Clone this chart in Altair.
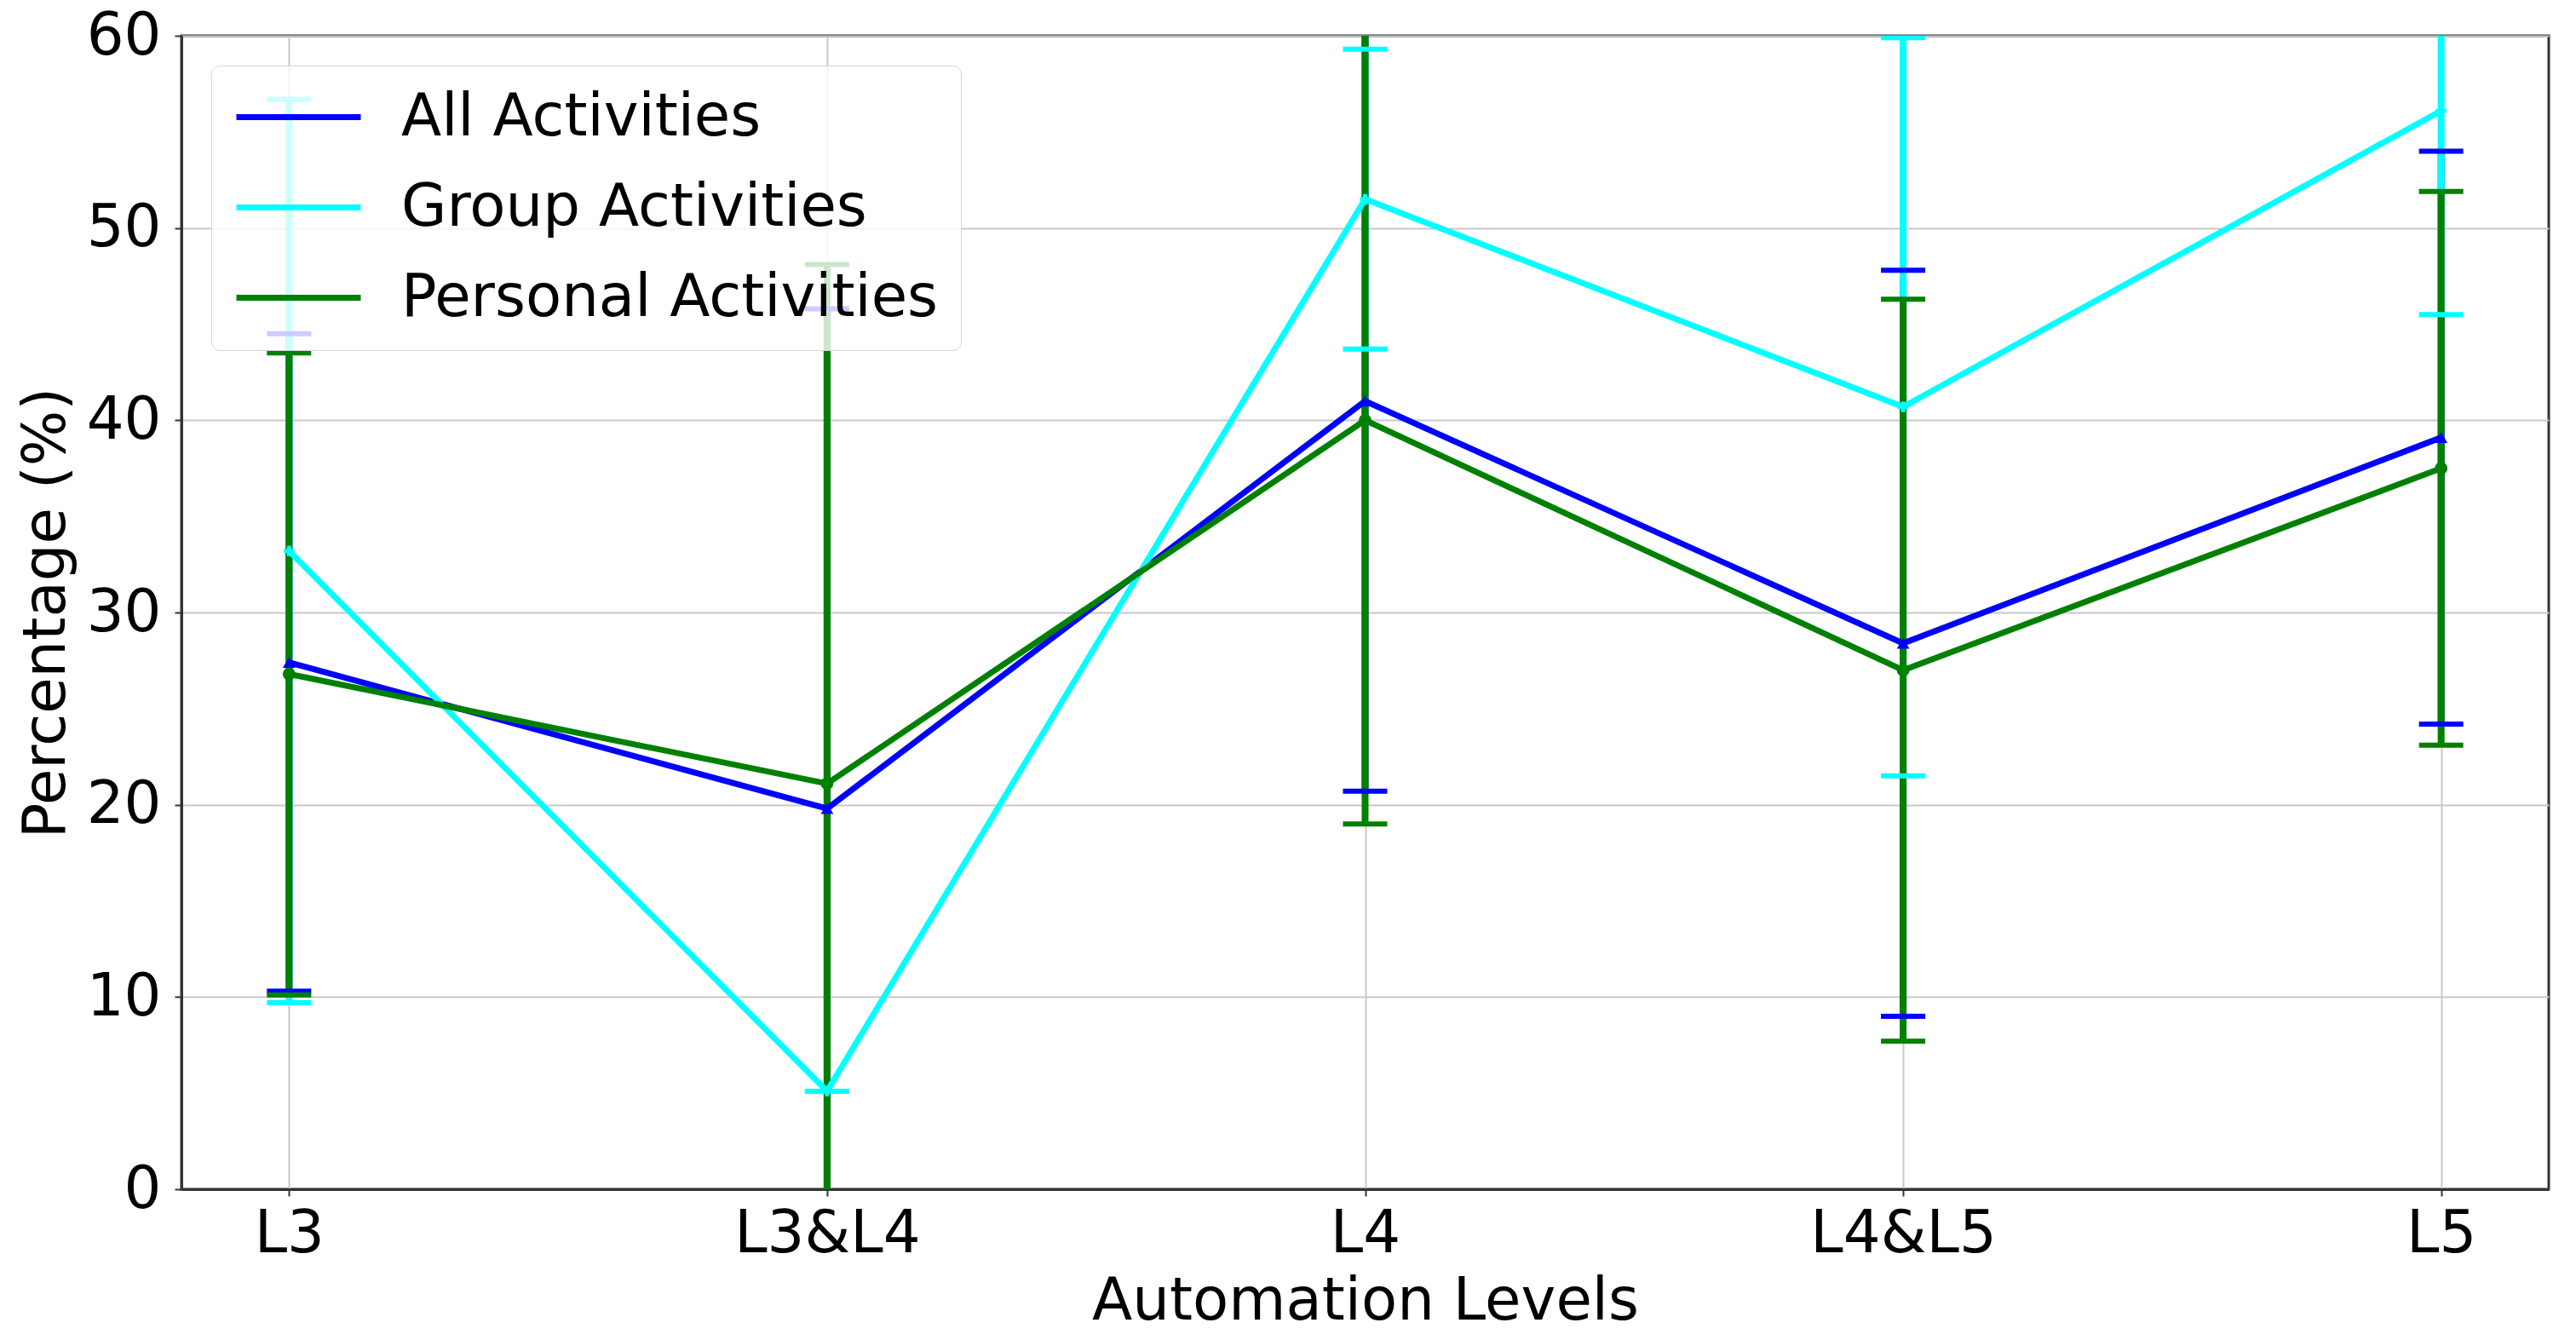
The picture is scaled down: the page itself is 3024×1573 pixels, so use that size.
import altair as alt
import pandas as pd

levels = ["L3", "L3&L4", "L4", "L4&L5", "L5"]
series_names = ["All Activities", "Group Activities", "Personal Activities"]
series_colors = ["#0000ff", "#00ffff", "#008000"]
y_ticks = [0, 10, 20, 30, 40, 50, 60]

all_mean = [27.4, 19.8, 41.0, 28.4, 39.1]
all_err = [17.1, 26.0, 20.3, 19.4, 14.9]
group_mean = [33.2, 5.1, 51.5, 40.7, 56.1]
group_err = [23.5, 0.0, 7.8, 19.2, 10.6]
personal_mean = [26.8, 21.1, 40.0, 27.0, 37.5]
personal_err = [16.7, 27.0, 21.0, 19.3, 14.4]

rows = []
for name, means, errs in zip(series_names,
                             [all_mean, group_mean, personal_mean],
                             [all_err, group_err, personal_err]):
    for i, (lv, m, e) in enumerate(zip(levels, means, errs)):
        rows.append({"series": name, "level": lv, "order": i,
                     "mean": m, "lo": m - e, "hi": m + e})
df = pd.DataFrame(rows)

FONT = "DejaVu Sans"
FS = 69

x_enc = alt.X("level:N", sort=levels,
              scale=alt.Scale(type="point", padding=0.2),
              axis=alt.Axis(title="Automation Levels", labelAngle=0, labelLimit=0))
y_scale = alt.Scale(domain=[0, 60], nice=False, zero=False)
y_axis = alt.Axis(title="Percentage (%)", values=y_ticks)
color_enc = alt.Color("series:N",
                      scale=alt.Scale(domain=series_names, range=series_colors),
                      legend=alt.Legend(title=None, orient="none",
                                        legendX=35, legendY=35))

base = alt.Chart(df)

rules = base.mark_rule(strokeWidth=8, clip=True).encode(
    x=x_enc,
    y=alt.Y("lo:Q", scale=y_scale, axis=y_axis),
    y2="hi:Q",
    color=color_enc,
)

caps_lo = base.mark_tick(size=52, thickness=6, clip=True, opacity=1).encode(
    x=x_enc,
    y=alt.Y("lo:Q", scale=y_scale, axis=y_axis),
    color=color_enc,
)
caps_hi = base.mark_tick(size=52, thickness=6, clip=True, opacity=1).encode(
    x=x_enc,
    y=alt.Y("hi:Q", scale=y_scale, axis=y_axis),
    color=color_enc,
)

lines = base.mark_line(strokeWidth=7, clip=True).encode(
    x=x_enc,
    y=alt.Y("mean:Q", scale=y_scale, axis=y_axis),
    color=color_enc,
    detail="series:N",
    order="order:Q",
)

pts_all = base.transform_filter(alt.datum.series == "All Activities").mark_point(
    shape="triangle-up", filled=True, size=220, opacity=1, color="#0000ff").encode(
    x=x_enc, y=alt.Y("mean:Q", scale=y_scale, axis=y_axis))
pts_group = base.transform_filter(alt.datum.series == "Group Activities").mark_point(
    shape="cross", filled=True, size=150, opacity=1, color="#00ffff").encode(
    x=x_enc, y=alt.Y("mean:Q", scale=y_scale, axis=y_axis))
pts_pers = base.transform_filter(alt.datum.series == "Personal Activities").mark_point(
    shape="circle", filled=True, size=220, opacity=1, color="#008000").encode(
    x=x_enc, y=alt.Y("mean:Q", scale=y_scale, axis=y_axis))

chart = alt.layer(rules, caps_lo, caps_hi, lines, pts_all, pts_group, pts_pers).properties(
    width=2779, height=1354,
    autosize=alt.AutoSizeParams(type="none"),
    padding={"left": 205, "top": 34, "right": 24, "bottom": 169},
).configure_view(
    stroke="#333333", strokeWidth=3,
).configure_axis(
    labelFont=FONT, titleFont=FONT, labelFontSize=FS, titleFontSize=FS,
    labelColor="black", titleColor="black", titleFontWeight="normal",
    grid=True, gridColor="#c8c8c8", gridWidth=2,
    domainColor="#333333", domainWidth=3,
    tickColor="#333333", tickSize=8, tickWidth=2,
).configure_axisY(
    labelPadding=16, titlePadding=12,
).configure_axisX(
    labelPadding=10, titlePadding=10,
).configure_legend(
    labelFont=FONT, labelFontSize=FS, labelColor="black",
    symbolType="stroke", symbolSize=21316, symbolStrokeWidth=7,
    clipHeight=69,
    labelOffset=44, rowPadding=36, padding=26,
    fillColor="rgba(255,255,255,0.8)", strokeColor="#d6d6d6",
    cornerRadius=10, labelLimit=1000,
)

chart.save("out.html", embed_options={"renderer": "svg", "actions": False})
